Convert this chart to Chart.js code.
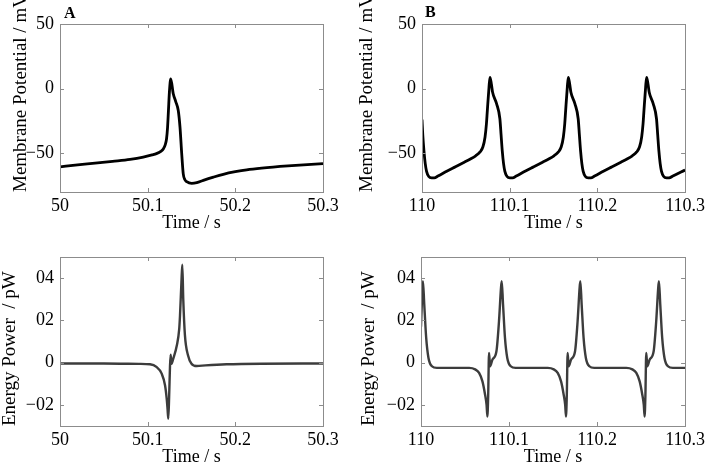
<!DOCTYPE html>
<html>
<head>
<meta charset="utf-8">
<script src="https://cdn.jsdelivr.net/npm/chart.js@4.4.0/dist/chart.umd.min.js"></script>
<style>
  body { margin: 0; background: #fff; }
  #fig { position: relative; width: 708px; height: 466px; overflow: hidden; }
  #fig canvas { position: absolute; }
  .tag { position: absolute; font: bold 16px "Liberation Serif", serif; line-height: 16px; color: #000; }
</style>
</head>
<body>
<div id="fig">
  <canvas id="voltA" width="354" height="233" style="left:0;top:0"></canvas>
  <canvas id="voltB" width="354" height="233" style="left:354px;top:0"></canvas>
  <canvas id="powerA" width="354" height="233" style="left:0;top:233px"></canvas>
  <canvas id="powerB" width="354" height="233" style="left:354px;top:233px"></canvas>
  <div class="tag" style="left:64px;top:5px">A</div>
  <div class="tag" style="left:425px;top:4px">B</div>
</div>
<script>
// panel A, membrane potential (mV)
const timeA = [50.000, 50.020, 50.040, 50.060, 50.080, 50.095, 50.105, 50.1100, 50.1150, 50.1180,
  50.1200, 50.1215, 50.1227, 50.1237, 50.1249, 50.1263, 50.1292, 50.1320, 50.1349, 50.1369,
  50.1388, 50.1406, 50.1425, 50.1445, 50.1502, 50.1560, 50.1635, 50.1750, 50.1863, 50.2000,
  50.2130, 50.2300, 50.2600, 50.3000];
const voltA = [-60.5, -59, -57.7, -56.3, -54.8, -53, -51.3, -50.3, -48.5, -46.5,
  -43.5, -39, -30, -17, -1.5, 7.5, -4, -10, -17, -30,
  -50, -66, -70.5, -72, -73.3, -72.8, -71, -68.5, -66.3, -64.3,
  -62.8, -61.5, -59.8, -58];

// panel A, energy power (pW)
const powerTimeA = [50.000, 50.050, 50.090, 50.1027, 50.110, 50.116, 50.1198, 50.1217, 50.1227, 50.1235,
  50.1245, 50.1255, 50.1262, 50.1272, 50.1292, 50.1333, 50.1360, 50.1369, 50.1385, 50.1395,
  50.1406, 50.1425, 50.1460, 50.1500, 50.1560, 50.1660, 50.1900, 50.2300, 50.3000];
const powerA = [-0.004, -0.004, -0.006, -0.008, -0.02, -0.052, -0.107, -0.17, -0.22, -0.265,
  -0.16, -0.013, 0.038, -0.005, 0.019, 0.082, 0.16, 0.224, 0.38, 0.463,
  0.30, 0.13, 0.035, -0.005, -0.016, -0.013, -0.008, -0.005, -0.004];

// panel B, membrane potential (mV)
const timeB = [110.0000, 110.0009, 110.0022, 110.0037, 110.0052, 110.0077, 110.0109, 110.0140, 110.0182, 110.0282,
  110.0382, 110.0482, 110.0552, 110.0612, 110.0662, 110.0695, 110.0719, 110.0735, 110.0745, 110.0764,
  110.0775, 110.0790, 110.0805, 110.0851, 110.0888, 110.0902, 110.0915, 110.0930, 110.0945, 110.0970,
  110.1002, 110.1033, 110.1075, 110.1175, 110.1275, 110.1375, 110.1445, 110.1505, 110.1555, 110.1588,
  110.1612, 110.1628, 110.1638, 110.1657, 110.1668, 110.1683, 110.1698, 110.1744, 110.1781, 110.1795,
  110.1808, 110.1823, 110.1838, 110.1863, 110.1895, 110.1926, 110.1968, 110.2068, 110.2168, 110.2268,
  110.2338, 110.2398, 110.2448, 110.2481, 110.2505, 110.2521, 110.2531, 110.2550, 110.2561, 110.2576,
  110.2591, 110.2637, 110.2674, 110.2688, 110.2701, 110.2716, 110.2731, 110.2756, 110.2788, 110.2819,
  110.2861, 110.3000];
const voltB = [-24, -36, -48, -58, -64, -68, -69, -69, -67.7, -64,
  -60.5, -57, -54.5, -52, -49, -45, -37.4, -27, -17, 1,
  8.7, 4, -2.8, -11.8, -23.3, -36, -48, -58, -64, -68,
  -69, -69, -67.7, -64, -60.5, -57, -54.5, -52, -49, -45,
  -37.4, -27, -17, 1, 8.7, 4, -2.8, -11.8, -23.3, -36,
  -48, -58, -64, -68, -69, -69, -67.7, -64, -60.5, -57,
  -54.5, -52, -49, -45, -37.4, -27, -17, 1, 8.7, 4,
  -2.8, -11.8, -23.3, -36, -48, -58, -64, -68, -69, -69,
  -67.7, -63];

// panel B, energy power (pW)
const powerTimeB = [110.0000, 110.0012, 110.0022, 110.0037, 110.0059, 110.0085, 110.0124, 110.0180, 110.0400, 110.0547,
  110.0615, 110.0660, 110.0698, 110.0728, 110.0745, 110.0754, 110.0763, 110.0773, 110.0785, 110.0811,
  110.0857, 110.0886, 110.0909, 110.0917, 110.0932, 110.0954, 110.0980, 110.1019, 110.1075, 110.1300,
  110.1440, 110.1508, 110.1553, 110.1591, 110.1621, 110.1638, 110.1647, 110.1656, 110.1666, 110.1678,
  110.1704, 110.1750, 110.1779, 110.1802, 110.1810, 110.1825, 110.1847, 110.1873, 110.1912, 110.1968,
  110.2200, 110.2333, 110.2401, 110.2446, 110.2484, 110.2514, 110.2531, 110.2540, 110.2549, 110.2559,
  110.2571, 110.2597, 110.2643, 110.2672, 110.2695, 110.2703, 110.2718, 110.2740, 110.2766, 110.2805,
  110.2861, 110.3000];
const powerB = [0.17, 0.31, 0.386, 0.276, 0.117, 0.022, -0.017, -0.025, -0.025, -0.025,
  -0.032, -0.049, -0.089, -0.152, -0.20, -0.255, -0.16, 0.046, -0.017, 0.014,
  0.054, 0.196, 0.355, 0.386, 0.276, 0.117, 0.022, -0.017, -0.025, -0.025,
  -0.025, -0.032, -0.049, -0.089, -0.152, -0.20, -0.255, -0.16, 0.046, -0.017,
  0.014, 0.054, 0.196, 0.355, 0.386, 0.276, 0.117, 0.022, -0.017, -0.025,
  -0.025, -0.025, -0.032, -0.049, -0.089, -0.152, -0.20, -0.255, -0.16, 0.046,
  -0.017, 0.014, 0.054, 0.196, 0.355, 0.386, 0.276, 0.117, 0.022, -0.017,
  -0.025, -0.025];

// axis ticks and labels
const xTicksA = [50, 50.1, 50.2, 50.3];
const xLabelsA = ['50', '50.1', '50.2', '50.3'];
const xTicksB = [110, 110.1, 110.2, 110.3];
const xLabelsB = ['110', '110.1', '110.2', '110.3'];
const voltTicks = [-50, 0, 50];
const voltLabels = ['\u221250', '0', '50'];
const powerTicks = [-0.2, 0, 0.2, 0.4];
const powerLabels = ['\u221202', '0', '02', '04'];

const family = '"Liberation Serif", "Times New Roman", serif';
const font = { family, size: 18 };

// matlab style box with inward ticks on all four sides
const frame = {
  id: 'frame',
  afterDraw(chart) {
    const { ctx, chartArea: a, scales: { x, y } } = chart;
    const len = 4;
    ctx.save();
    ctx.strokeStyle = '#8c8c8c';
    ctx.lineWidth = 1;
    ctx.beginPath();
    x.ticks.forEach(t => {
      const px = Math.round(x.getPixelForValue(t.value)) + 0.5;
      ctx.moveTo(px, a.bottom); ctx.lineTo(px, a.bottom - len);
      ctx.moveTo(px, a.top); ctx.lineTo(px, a.top + len);
    });
    y.ticks.forEach(t => {
      const py = Math.round(y.getPixelForValue(t.value)) + 0.5;
      ctx.moveTo(a.left, py); ctx.lineTo(a.left + len, py);
      ctx.moveTo(a.right, py); ctx.lineTo(a.right - len, py);
    });
    ctx.stroke();
    ctx.strokeRect(Math.round(a.left) + 0.5, Math.round(a.top) + 0.5,
      Math.round(a.right - a.left), Math.round(a.bottom - a.top));
    ctx.restore();
  }
};

function makeChart(id, o) {
  return new Chart(document.getElementById(id), {
    type: 'line',
    data: {
      datasets: [{
        data: o.times.map((t, i) => ({ x: t, y: o.values[i] })),
        borderColor: o.color,
        borderWidth: o.lineWidth,
        pointRadius: 0,
        cubicInterpolationMode: 'monotone',
        fill: false,
      }],
    },
    options: {
      responsive: false,
      animation: false,
      devicePixelRatio: 1,
      events: [],
      layout: { padding: { top: 24, right: o.right, left: 0, bottom: 0 } },
      plugins: { legend: { display: false }, tooltip: { enabled: false } },
      scales: {
        x: {
          type: 'linear',
          min: o.xTicks[0],
          max: o.xTicks[o.xTicks.length - 1],
          grid: { display: false, drawTicks: false },
          border: { display: false },
          afterBuildTicks: s => { s.ticks = o.xTicks.map(v => ({ value: v })); },
          afterFit: s => { s.height = o.xHeight; },
          ticks: { autoSkip: false, maxRotation: 0, padding: 3, color: '#000', font,
            callback: (v, i) => o.xLabels[i] },
          title: { display: true, text: 'Time / s', color: '#000',
            font: { ...font, lineHeight: 1 }, padding: { top: 0, bottom: o.xTitlePad } },
        },
        y: {
          min: o.yMin,
          max: o.yMax,
          grid: { display: false, drawTicks: false },
          border: { display: false },
          afterBuildTicks: s => { s.ticks = o.yTicks.map(v => ({ value: v })); },
          afterFit: s => { s.width = o.yWidth; },
          ticks: { autoSkip: false, padding: 6, color: '#000', font,
            callback: (v, i) => o.yLabels[i] },
          title: { display: true, text: o.yTitle, align: 'start', color: '#000',
            font: { family, size: 19, lineHeight: 1.1 }, padding: { top: o.yTitlePad, bottom: 0 } },
        },
      },
    },
    plugins: [frame],
  });
}

makeChart('voltA', {
  times: timeA, values: voltA, color: '#000', lineWidth: 2.8,
  xTicks: xTicksA, xLabels: xLabelsA, yTicks: voltTicks, yLabels: voltLabels,
  yMin: -80, yMax: 50, yWidth: 60, right: 31, xHeight: 41, xTitlePad: 1,
  yTitle: 'Membrane Potential / mV', yTitlePad: 11,
});
makeChart('voltB', {
  times: timeB, values: voltB, color: '#000', lineWidth: 2.8,
  xTicks: xTicksB, xLabels: xLabelsB, yTicks: voltTicks, yLabels: voltLabels,
  yMin: -80, yMax: 50, yWidth: 68, right: 22, xHeight: 41, xTitlePad: 1,
  yTitle: 'Membrane Potential / mV', yTitlePad: 3,
});
makeChart('powerA', {
  times: powerTimeA, values: powerA, color: '#3c3c3c', lineWidth: 2.4,
  xTicks: xTicksA, xLabels: xLabelsA, yTicks: powerTicks, yLabels: powerLabels,
  yMin: -0.3, yMax: 0.5, yWidth: 60, right: 31, xHeight: 40, xTitlePad: 0,
  yTitle: 'Energy Power  / pW', yTitlePad: 0,
});
makeChart('powerB', {
  times: powerTimeB, values: powerB, color: '#3c3c3c', lineWidth: 2.4,
  xTicks: xTicksB, xLabels: xLabelsB, yTicks: powerTicks, yLabels: powerLabels,
  yMin: -0.3, yMax: 0.5, yWidth: 67, right: 22, xHeight: 40, xTitlePad: 0,
  yTitle: 'Energy Power  / pW', yTitlePad: 5,
});
</script>
</body>
</html>
